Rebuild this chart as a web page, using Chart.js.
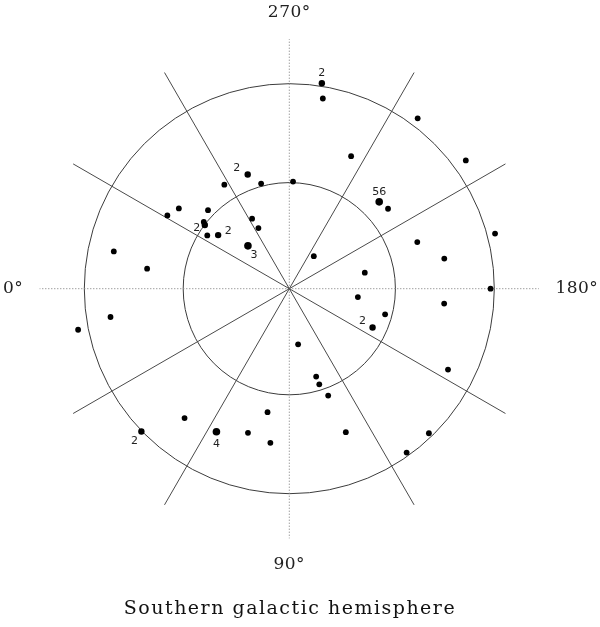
<!DOCTYPE html>
<html>
<head>
<meta charset="utf-8">
<script src="https://cdn.jsdelivr.net/npm/chart.js@4.4.1/dist/chart.umd.min.js"></script>
<style>
  html, body { margin: 0; padding: 0; background: #fff; }
</style>
</head>
<body>
<canvas id="sky" width="600" height="627"></canvas>
<script>
// galactic longitude and latitude (deg) of each object
const lon = [261, 260, 233, 245, 216, 290, 302, 285, 268, 224,
             219, 324, 329, 316, 322, 323, 327, 323, 298, 297,
             314, 195, 200, 191, 233, 348, 352, 192, 180, 173,
             165, 155, 174.5, 11, 9, 99, 153, 107, 107.4, 110,
             111.5, 134, 125.6, 51, 44, 63, 74, 80, 83];
const lat = [-29, -33.8, -27.3, -48.2, -25.7, -55.5, -55.2, -59.2, -59.7, -54.5,
             -53.9, -51.1, -49.4, -58, -59.3, -60.1, -62.4, -64.9, -67.7, -70.9,
             -73.3, -27.4, -51.2, -44.7, -78.6, -38.1, -49, -68.3, -31.2, -70.6,
             -62, -64.1, -45.4, -26.7, -37.6, -74.2, -38.5, -64.1, -61.7, -57.8,
             -45.8, -31.3, -31.1, -42.1, -29.8, -43.9, -47.1, -54.4, -45.5];
// number of objects sitting on the same dot
const count = [2, 1, 1, 1, 1, 2, 1, 1, 1, 56,
               1, 1, 1, 1, 1, 2, 1, 2, 1, 1,
               3, 1, 1, 1, 1, 1, 1, 1, 1, 1,
               1, 2, 1, 1, 1, 1, 1, 1, 1, 1,
               1, 1, 1, 1, 2, 4, 1, 1, 1];

// grid: circles of constant latitude, meridians every 30 deg
const latCircles = [-30, -60];
const meridians = [0, 30, 60, 90, 120, 150, 180, 210, 240, 270, 300, 330];
const meridianEnd = -15;
const axisLon = [0, 90, 180, 270];
const axisText = ['0°', '90°', '180°', '270°'];

const DEG = Math.PI / 180;
// Lambert equal-area, centred on the south galactic pole
function polarR(b) { return Math.sin((90 + b) / 2 * DEG); }
function project(l, b) {
    const r = polarR(b);
    return { x: -Math.cos(l * DEG) * r, y: -Math.sin(l * DEG) * r };
}

const points = lon.map((l, i) => project(l, lat[i]));
const radii = count.map(n => n > 2 ? 3.8 : (n === 2 ? 3.2 : 2.9));

// where the multiplicity numbers sit relative to their dot (px)
const countOffset = { 0: [0, -10], 5: [-11, -6], 9: [0, -10], 15: [-8, 3], 17: [10, -4],
                      20: [6, 9], 31: [-10, -6], 44: [-7, 10], 45: [0, 12] };

const skyGrid = {
    id: 'skyGrid',
    beforeDraw(chart) {
        // wide lettering like the original plot package
        chart.ctx.letterSpacing = '1.5px';
    },
    beforeDatasetsDraw(chart) {
        const { ctx, scales: { x, y } } = chart;
        const cx = x.getPixelForValue(0), cy = y.getPixelForValue(0);
        ctx.save();
        ctx.lineWidth = 1;
        ctx.strokeStyle = '#3c3c3c';
        latCircles.forEach(b => {
            const r = x.getPixelForValue(polarR(b)) - cx;
            ctx.beginPath();
            ctx.arc(cx, cy, r, 0, 2 * Math.PI);
            ctx.stroke();
        });
        meridians.forEach(l => {
            const p = project(l, meridianEnd);
            const dotted = l % 90 === 0;
            ctx.setLineDash(dotted ? [1, 2] : []);
            ctx.strokeStyle = dotted ? '#777' : '#4a4a4a';
            ctx.beginPath();
            ctx.moveTo(cx, cy);
            ctx.lineTo(x.getPixelForValue(p.x), y.getPixelForValue(p.y));
            ctx.stroke();
        });
        ctx.setLineDash([]);

        // longitude labels round the edge
        ctx.fillStyle = '#222';
        ctx.font = '17px "DejaVu Serif"';
        ctx.letterSpacing = '0.5px';
        ctx.textBaseline = 'middle';
        axisLon.forEach((l, i) => {
            const side = Math.abs(Math.cos(l * DEG)) > 0.5;
            const r = side ? 0.649 : 0.673;
            const lx = x.getPixelForValue(-Math.cos(l * DEG) * r);
            const ly = y.getPixelForValue(-Math.sin(l * DEG) * r);
            ctx.textAlign = side ? (l === 0 ? 'right' : 'left') : 'center';
            ctx.fillText(axisText[i], lx, ly);
        });
        ctx.restore();
    },
    afterDatasetsDraw(chart) {
        const { ctx } = chart;
        const meta = chart.getDatasetMeta(0);
        ctx.save();
        ctx.fillStyle = '#222';
        ctx.font = '11px "DejaVu Sans"';
        ctx.letterSpacing = '0px';
        ctx.textAlign = 'center';
        ctx.textBaseline = 'middle';
        count.forEach((n, i) => {
            if (n < 2) return;
            const el = meta.data[i];
            const off = countOffset[i] || [0, -10];
            ctx.fillText(String(n), el.x + off[0], el.y + off[1]);
        });
        ctx.restore();
    },
    afterDraw(chart) {
        chart.ctx.letterSpacing = '0px';
    }
};

// chart area is 580 x 590 px, pole at (289.3, 288.7), 410 px per unit
const unit = 410;
new Chart(document.getElementById('sky'), {
    type: 'scatter',
    data: {
        datasets: [{
            data: points,
            pointRadius: radii,
            pointHoverRadius: radii,
            pointBackgroundColor: '#000',
            pointBorderWidth: 0
        }]
    },
    options: {
        responsive: false,
        animation: false,
        devicePixelRatio: 1,
        layout: { padding: { left: 0, right: 20, top: 0, bottom: 0 }, autoPadding: false },
        scales: {
            x: { type: 'linear', display: false, bounds: 'data',
                 min: -289.3 / unit, max: (580 - 289.3) / unit },
            y: { type: 'linear', display: false, bounds: 'data',
                 min: -(590 - 288.7) / unit, max: 288.7 / unit }
        },
        plugins: {
            legend: { display: false },
            tooltip: { enabled: false },
            title: {
                display: true,
                position: 'bottom',
                text: 'Southern galactic hemisphere',
                color: '#111',
                font: { family: '"DejaVu Serif"', size: 19, weight: 'normal', lineHeight: '20px' },
                padding: { top: 9, bottom: 8 }
            }
        }
    },
    plugins: [skyGrid]
});
</script>
</body>
</html>
